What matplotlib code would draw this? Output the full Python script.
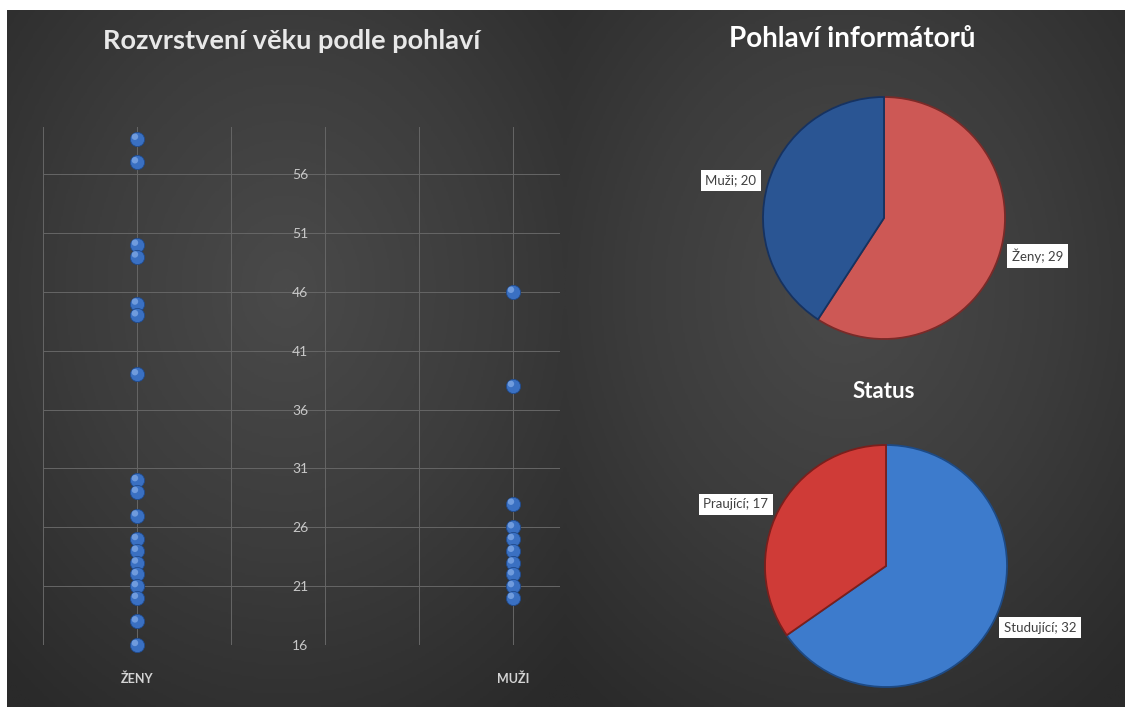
import numpy as np
import matplotlib.pyplot as plt
import matplotlib.transforms as mtransforms
from matplotlib.colors import LinearSegmentedColormap

W, H = 1130, 715

# věk informátorů podle pohlaví
zeny_vek = [59, 57, 50, 49, 45, 44, 39, 30, 29, 27, 25, 24, 23, 22, 21, 20, 18, 16]
muzi_vek = [46, 38, 28, 26, 25, 24, 23, 22, 21, 20]
skupiny = ['ŽENY', 'MUŽI']
skupiny_x = [1, 5]
y_ticks = [16, 21, 26, 31, 36, 41, 46, 51, 56]

pohlavi = ['Ženy', 'Muži']
pohlavi_pocet = [29, 20]
status = ['Studující', 'Praující']
status_pocet = [32, 17]

plt.rcParams['font.family'] = ['Lato', 'DejaVu Sans']

fig = plt.figure(figsize=(W / 100, H / 100), dpi=100, facecolor='white')

bg_cmap = LinearSegmentedColormap.from_list('bg', ['#4a4a4a', '#3c3c3c', '#2a2a2a'])


def panel(x0, x1):
    ax = fig.add_axes([x0 / W, 8 / H, (x1 - x0) / W, 697 / H], zorder=-5)
    yy, xx = np.mgrid[-1:1:300j, -1:1:300j]
    rr = np.sqrt(xx ** 2 + (yy + 0.2) ** 2)
    ax.imshow(rr, cmap=bg_cmap, vmin=0, vmax=1.5, aspect='auto', extent=(0, 1, 0, 1))
    ax.axis('off')


panel(7, 565)
panel(565, 1125)

# --- bodový graf ---
ax = fig.add_axes([43 / W, 70 / H, 517 / W, 518 / H])
ax.patch.set_alpha(0)
ax.spines['left'].set_position(('data', 3))
for s in ax.spines.values():
    s.set_visible(False)
ax.set_xlim(0, 5.5)
ax.set_ylim(16, 60)
ax.set_xticks([0, 1, 2, 3, 4, 5], minor=True)
ax.set_xticks(skupiny_x)
ax.set_xticklabels(skupiny, fontsize=9, fontweight='bold')
ax.set_yticks(y_ticks)
ax.set_yticklabels([str(t) for t in y_ticks], fontsize=10)
ax.tick_params(axis='both', which='both', length=0)
ax.tick_params(axis='x', pad=20, labelcolor='#d4d4d4')
ax.tick_params(axis='y', pad=12, labelcolor='#c8c8c8')
ax.grid(True, which='both', axis='x', color='#666666', lw=0.7)
ax.grid(True, axis='y', color='#666666', lw=0.7)
ax.axhline(16, color='#666666', lw=0.7)
ax.set_axisbelow(True)

# lesk na kuličkách - posunutý kousek nahoru doleva
lesk = mtransforms.offset_copy(ax.transData, fig=fig, x=-1.5, y=1.5, units='points')
for x, vals in zip(skupiny_x, [zeny_vek, muzi_vek]):
    ax.scatter([x] * len(vals), vals, s=105, c='#3a70c2', edgecolors='#1f4a8c', linewidths=0.6,
               zorder=3, clip_on=False)
    ax.scatter([x] * len(vals), vals, s=22, c='#8cb3ec', edgecolors='none', alpha=0.65,
               zorder=4, clip_on=False, transform=lesk)

fig.text(292 / W, 1 - 41 / H, 'Rozvrstvení věku podle pohlaví', ha='center', va='center',
         fontsize=19.5, fontweight='bold', color='#e8e8e8')


# --- koláčové grafy ---
def pie_axes(cx, cy, r, lim):
    return fig.add_axes([(cx - r * lim) / W, (H - cy - r * lim) / H, 2 * r * lim / W, 2 * r * lim / H])


def kolac(ax, names, vals, colors, edges):
    wedges, texts = ax.pie(vals, labels=[f'{n}; {v}' for n, v in zip(names, vals)],
                           colors=colors, startangle=90, counterclock=False,
                           labeldistance=1.1,
                           wedgeprops=dict(linewidth=1.3),
                           textprops=dict(fontsize=9.5, color='#404040',
                                          bbox=dict(boxstyle='square,pad=0.35', fc='white', ec='none')))
    for w, e in zip(wedges, edges):
        w.set_edgecolor(e)
    ax.set_xlim(-1.3, 1.3)
    ax.set_ylim(-1.3, 1.3)


ax1 = pie_axes(884, 218, 121, 1.3)
kolac(ax1, pohlavi, pohlavi_pocet, ['#cd5855', '#2a5593'], ['#7a2a28', '#163260'])
fig.text(852 / W, 1 - 39 / H, 'Pohlaví informátorů', ha='center', va='center',
         fontsize=20, fontweight='bold', color='#ffffff')

ax2 = pie_axes(886, 566, 121, 1.3)
kolac(ax2, status, status_pocet, ['#3d7bcc', '#cf3b37'], ['#1d4a85', '#7a1f1c'])
fig.text(884 / W, 1 - 392 / H, 'Status', ha='center', va='center',
         fontsize=16, fontweight='bold', color='#ffffff')

fig.savefig('out.png', dpi=100, facecolor='white')
